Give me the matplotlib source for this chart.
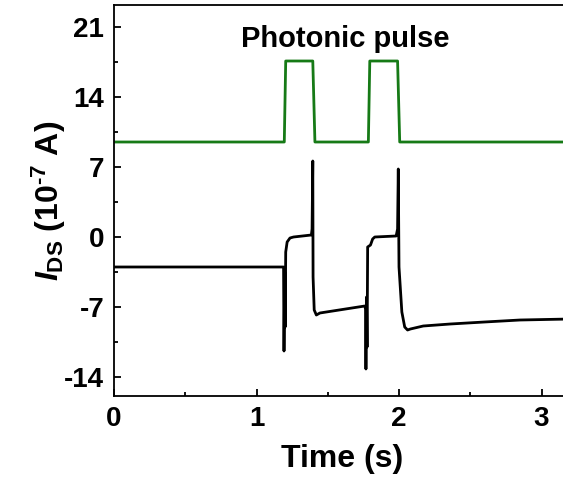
import matplotlib
matplotlib.use('Agg')
import matplotlib.pyplot as plt
from matplotlib.ticker import MultipleLocator

plt.rcParams['font.family'] = 'Liberation Sans'
plt.rcParams['font.weight'] = 'bold'
plt.rcParams['axes.unicode_minus'] = False
plt.rcParams['mathtext.fontset'] = 'custom'
plt.rcParams['mathtext.rm'] = 'Liberation Sans:bold'
plt.rcParams['mathtext.it'] = 'Liberation Sans:italic:bold'
plt.rcParams['mathtext.bf'] = 'Liberation Sans:bold'

# photonic pulse trace
t_pulse = [0, 1.195, 1.205, 1.395, 1.41, 1.785, 1.795, 1.99, 2.005, 3.2]
v_pulse = [9.5, 9.5, 17.6, 17.6, 9.5, 9.5, 17.6, 17.6, 9.5, 9.5]

# drain current trace
t_ids = [0, 1.19, 1.193, 1.198, 1.201, 1.205, 1.215, 1.235, 1.26, 1.385, 1.39,
         1.395, 1.397, 1.405, 1.42, 1.445, 1.76, 1.765, 1.768, 1.772, 1.776,
         1.78, 1.79, 1.80, 1.815, 1.83, 1.98, 1.99, 1.995, 2.0, 2.02, 2.04,
         2.06, 2.08, 2.17, 2.36, 2.6, 2.85, 3.2]
i_ids = [-3.0, -3.0, -11.4, -3.5, -9.0, -1.5, -0.5, -0.1, 0.0, 0.2, 0.8,
         7.6, -4.0, -7.3, -7.8, -7.6, -6.9, -7.2, -13.2, -6.0, -11.0,
         -1.0, -0.9, -0.8, -0.2, 0.0, 0.1, 0.8, 6.8, -3.0, -7.5, -9.0,
         -9.3, -9.2, -8.9, -8.7, -8.5, -8.3, -8.2]

fig = plt.figure(figsize=(5.63, 4.86), dpi=100)
ax = fig.add_axes([114 / 563, 90 / 486, 456 / 563, 391 / 486])

ax.plot(t_pulse, v_pulse, color='#167a16', lw=2)
ax.plot(t_ids, i_ids, color='black', lw=2)

ax.text(1.62, 19.8, 'Photonic pulse', ha='center', va='center',
        fontsize=21, fontweight='bold')

ax.set_xlim(0, 3.2)
ax.set_ylim(-15.9, 23.2)
ax.xaxis.set_major_locator(MultipleLocator(1))
ax.xaxis.set_minor_locator(MultipleLocator(0.5))
ax.yaxis.set_major_locator(MultipleLocator(7))
ax.yaxis.set_minor_locator(MultipleLocator(3.5))
ax.tick_params(which='both', direction='in', width=1.3, labelsize=20, pad=7)
ax.tick_params(which='major', length=5)
ax.tick_params(which='minor', length=3)
ax.set_yticks([-14, -7, 0, 7, 14, 21])
for s in ax.spines.values():
    s.set_linewidth(1.3)

ax.set_xlabel('Time (s)', fontsize=23, fontweight='bold', labelpad=9)
ax.set_ylabel('$I_{\\mathrm{DS}}$ (10$^{\\text{-7}}$ A)', fontsize=23,
              fontweight='bold', labelpad=-3)

fig.savefig('out.png', dpi=100)
